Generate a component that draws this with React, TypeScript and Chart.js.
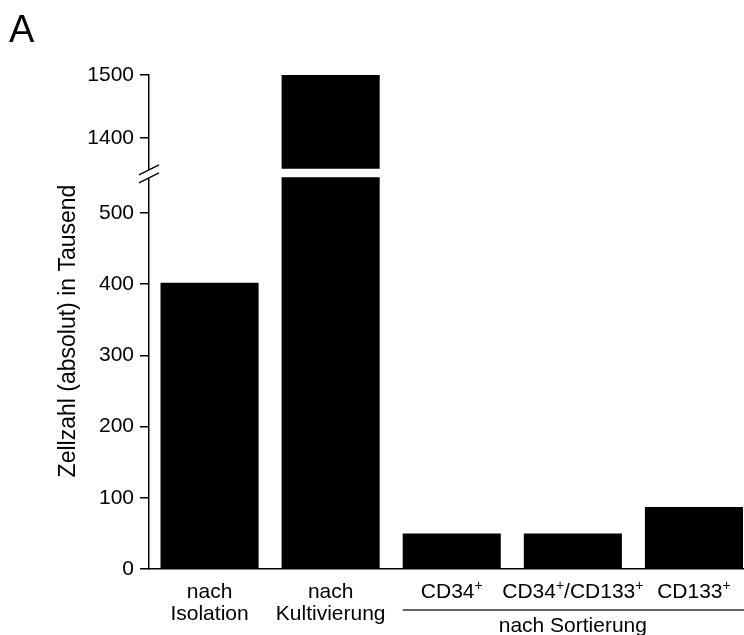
import { useEffect, useRef } from "react";
import { Chart, registerables } from "chart.js";

Chart.register(...registerables);

// ---------- data ----------
const categories = ["nach Isolation", "nach Kultivierung", "CD34+", "CD34+/CD133+", "CD133+"];
const xLabelLines: string[][] = [
  ["nach", "Isolation"],
  ["nach", "Kultivierung"],
  ["CD34⁺"],
  ["CD34⁺/CD133⁺"],
  ["CD133⁺"],
];
const cellCounts = [402, 1500, 50, 50, 87]; // Zellzahl in Tausend

// broken y axis: lower segment and upper segment
const lowerAxisMin = 0;
const lowerAxisMax = 555;
const lowerBarCut = 550;
const lowerTickMax = 500;
const upperAxisMin = 1343;
const upperAxisMax = 1500;
const upperBarStart = 1351;
const upperTickMin = 1400;
const minorStep = 50;
const majorStep = 100;

const yTitle = "Zellzahl (absolut) in Tausend";
const groupLabel = "nach Sortierung";
const groupFirstIndex = 2;
const panelLabel = "A";

// ---------- styles ----------
const FONT = "'Liberation Sans', Arial, Helvetica, sans-serif";

const lowerData = cellCounts.map((v) => Math.min(v, lowerBarCut));
const upperData = cellCounts.map((v) => (v > lowerAxisMax ? [upperBarStart, v] : null));

const decorPlugin = {
  id: "decor",
  afterDraw(chart: any) {
    const ctx: CanvasRenderingContext2D = chart.ctx;
    const xs = chart.scales.x;
    const yLow = chart.scales.yLow;
    const yHigh = chart.scales.yHigh;
    const area = chart.chartArea;
    const axisX = area.left;
    ctx.save();
    ctx.strokeStyle = "#000";
    ctx.lineWidth = 1.5;

    // minor ticks
    for (const s of [yLow, yHigh]) {
      for (const t of s.ticks) {
        if (t.value % majorStep !== 0) {
          const py = s.getPixelForValue(t.value);
          ctx.beginPath();
          ctx.moveTo(axisX - 5, py);
          ctx.lineTo(axisX, py);
          ctx.stroke();
        }
      }
    }

    // axis break
    const yb = Math.min(yLow.top, yLow.bottom, yHigh.bottom, yHigh.top) === yHigh.top ? yHigh.bottom : yLow.bottom;
    ctx.fillStyle = "#fff";
    ctx.fillRect(axisX - 3, yb - 4, 6, 8);
    for (const dy of [-4, 4]) {
      ctx.beginPath();
      ctx.moveTo(axisX - 10, yb + dy + 5);
      ctx.lineTo(axisX + 10, yb + dy - 5);
      ctx.stroke();
    }

    // x labels with superscripts
    ctx.fillStyle = "#000";
    ctx.textBaseline = "alphabetic";
    const mainFont = `21px ${FONT}`;
    const supFont = `14px ${FONT}`;
    const baselines = [598, 620];
    xLabelLines.forEach((lines, i) => {
      const cx = xs.getPixelForValue(i);
      lines.forEach((line, li) => {
        const parts = line.split("⁺");
        const segs: { t: string; sup: boolean }[] = [];
        parts.forEach((p, pi) => {
          if (p) segs.push({ t: p, sup: false });
          if (pi < parts.length - 1) segs.push({ t: "+", sup: true });
        });
        let total = 0;
        for (const s of segs) {
          ctx.font = s.sup ? supFont : mainFont;
          total += ctx.measureText(s.t).width;
        }
        let x0 = cx - total / 2;
        ctx.textAlign = "left";
        for (const s of segs) {
          ctx.font = s.sup ? supFont : mainFont;
          ctx.fillText(s.t, x0, s.sup ? baselines[li] - 8 : baselines[li]);
          x0 += ctx.measureText(s.t).width;
        }
      });
    });

    // group bracket line + label
    const meta = chart.getDatasetMeta(0);
    const firstBar = meta.data[groupFirstIndex];
    const lineStart = firstBar.x - firstBar.width / 2;
    ctx.beginPath();
    ctx.lineWidth = 1.5;
    ctx.strokeStyle = "#333";
    ctx.moveTo(lineStart, 610);
    ctx.lineTo(chart.width, 610);
    ctx.stroke();
    const groupCenter = xs.getPixelForValue((groupFirstIndex + categories.length - 1) / 2);
    ctx.font = mainFont;
    ctx.textAlign = "center";
    ctx.fillText(groupLabel, groupCenter, 632);

    // y title
    ctx.save();
    ctx.translate(69, 331);
    ctx.rotate(-Math.PI / 2);
    ctx.font = `23px ${FONT}`;
    ctx.textAlign = "center";
    ctx.textBaseline = "middle";
    ctx.fillText(yTitle, 0, 0);
    ctx.restore();

    // panel label
    ctx.font = `38px ${FONT}`;
    ctx.textAlign = "left";
    ctx.textBaseline = "alphabetic";
    ctx.fillText(panelLabel, 9, 42);

    ctx.restore();
  },
};

function yScale(min: number, max: number, weight: number, filter: (v: number) => boolean) {
  return {
    type: "linear",
    position: "left",
    stack: "y",
    stackWeight: weight,
    min,
    max,
    ticks: {
      stepSize: minorStep,
      includeBounds: false,
      color: "#000",
      padding: 6,
      font: { family: FONT, size: 21 },
      callback: (v: number) => (v % majorStep === 0 ? String(v) : ""),
    },
    grid: {
      drawOnChartArea: false,
      drawTicks: true,
      tickLength: 9,
      lineWidth: 1.5,
      tickColor: (c: any) =>
        c.tick && c.tick.value % majorStep === 0 ? "#000" : "rgba(0,0,0,0)",
    },
    border: { display: true, color: "#000", width: 1.5 },
    afterBuildTicks: (s: any) => {
      s.ticks = s.ticks.filter((t: any) => filter(t.value));
    },
    afterFit: (s: any) => {
      s.width = 149;
    },
  };
}

export default function App() {
  const ref = useRef<HTMLCanvasElement>(null);
  useEffect(() => {
    if (!ref.current) return;
    const chart = new Chart(ref.current, {
      type: "bar",
      data: {
        labels: categories,
        datasets: [
          {
            data: lowerData,
            yAxisID: "yLow",
            backgroundColor: "#000",
            borderWidth: 0,
            grouped: false,
            barPercentage: 0.81,
            categoryPercentage: 1,
          } as any,
          {
            data: upperData,
            yAxisID: "yHigh",
            backgroundColor: "#000",
            borderWidth: 0,
            grouped: false,
            barPercentage: 0.81,
            categoryPercentage: 1,
          } as any,
        ],
      },
      options: {
        responsive: false,
        animation: false,
        devicePixelRatio: 1,
        layout: { padding: { left: 0, top: 75, right: 5.5, bottom: 58 } },
        plugins: { legend: { display: false }, tooltip: { enabled: false } },
        scales: {
          x: {
            type: "category",
            grid: { display: false },
            border: { display: true, color: "#000", width: 1.5 },
            ticks: { display: false },
          },
          yLow: yScale(lowerAxisMin, lowerAxisMax, 4, (v) => v <= lowerTickMax) as any,
          yHigh: yScale(upperAxisMin, upperAxisMax, 1, (v) => v >= upperTickMin) as any,
        },
      },
      plugins: [decorPlugin],
    });
    return () => chart.destroy();
  }, []);
  return (
    <div
      style={{
        position: "fixed",
        left: 0,
        top: 0,
        width: 744,
        height: 635,
        overflow: "hidden",
        background: "#fff",
      }}
    >
      <canvas ref={ref} width={760} height={635} style={{ width: 760, height: 635, display: "block" }} />
    </div>
  );
}
